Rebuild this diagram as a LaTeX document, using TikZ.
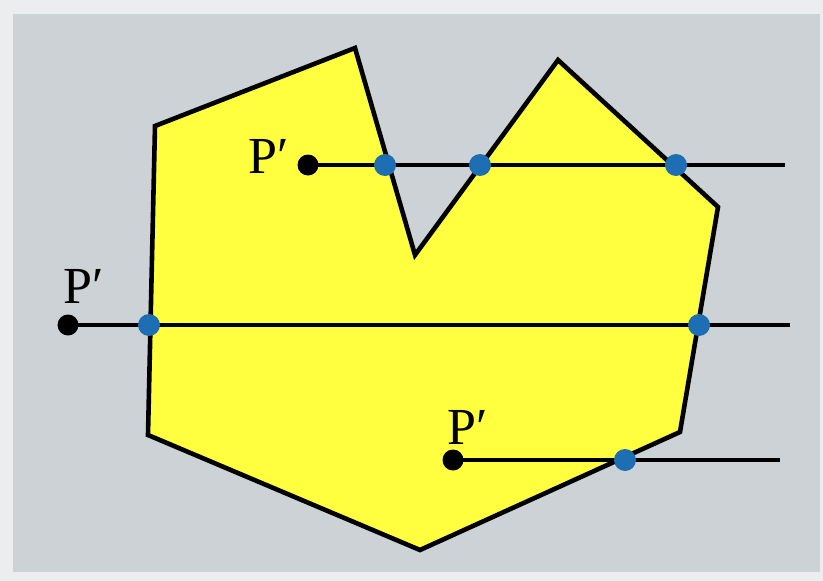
\documentclass[tikz,border=0pt]{standalone}
\usepackage{fontspec}
\setmainfont{Liberation Serif}
\usepackage{tikz}
\tikzset{
    pdot/.style={circle, fill=black, inner sep=0pt, minimum size=21pt},
    hit/.style={circle, fill=hitblue, inner sep=0pt, minimum size=22pt},
    lbl/.style={font=\fontsize{52}{56}\selectfont, inner sep=0pt},
    ray/.style={line width=3.2pt}
}
\definecolor{bggray}{RGB}{205,210,214}
\definecolor{rimgray}{RGB}{236,237,238}
\definecolor{polyyellow}{RGB}{255,255,64}
\definecolor{hitblue}{RGB}{30,110,180}

\begin{document}
\begin{tikzpicture}[x=1pt, y=-1pt]
\useasboundingbox (0,0) rectangle (823,581);
\fill[rimgray] (0,0) rectangle (823,581);
\fill[bggray] (13,14) rectangle (820,572);
% polygon
\draw[fill=polyyellow, line width=4.6pt, line join=miter]
  (155,126) -- (355,48) -- (415,255) -- (558,60) -- (718,207)
  -- (680,432) -- (420,550) -- (148,435) -- cycle;
% test points and end points
\node[pdot] (pa) at (308,165) {};
\node[pdot] (pb) at (68,325) {};
\node[pdot] (pc) at (453,460) {};
\coordinate (ea) at (785,165);
\coordinate (eb) at (790,325);
\coordinate (ec) at (780,460);
\node[lbl] (la) at (269,156) {P′};
\node[lbl] (lb) at (84,286) {P′};
\node[lbl] (lc) at (468,427) {P′};
% rays
\draw[ray] (pa.center) -- (ea);
\draw[ray] (pb.center) -- (eb);
\draw[ray] (pc.center) -- (ec);
% crossings
\node[hit] (a1) at (385,165) {};
\node[hit] (a2) at (480,165) {};
\node[hit] (a3) at (676,165) {};
\node[hit] (b1) at (149,325) {};
\node[hit] (b2) at (699,325) {};
\node[hit] (c1) at (625,460) {};
\end{tikzpicture}
\end{document}
